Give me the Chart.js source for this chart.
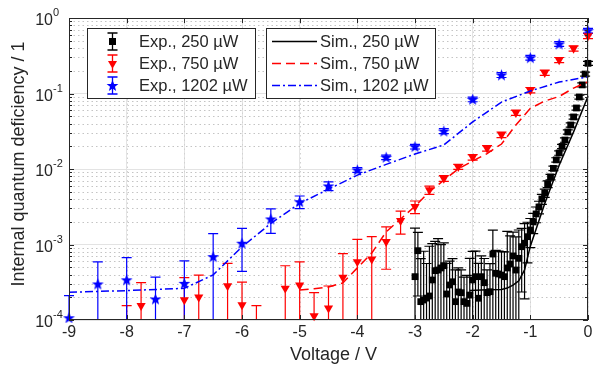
<!DOCTYPE html>
<html><head><meta charset="utf-8">
<script src="https://cdn.jsdelivr.net/npm/chart.js@4.4.1/dist/chart.umd.min.js"></script>
<style>html,body{margin:0;padding:0;background:#fff}</style>
</head><body>
<canvas id="c" width="595" height="365"></canvas>
<script>
// ---------------- data ----------------
const expLabels = ['Exp., 250 µW', 'Exp., 750 µW', 'Exp., 1202 µW'];
const simLabels = ['Sim., 250 µW', 'Sim., 750 µW', 'Sim., 1202 µW'];

const xTicks = [-9, -8, -7, -6, -5, -4, -3, -2, -1, 0];
const xTickLabels = ['-9', '-8', '-7', '-6', '-5', '-4', '-3', '-2', '-1', '0'];
const yTickExp = [0, -1, -2, -3, -4];

// Exp., 250 µW
const voltsExp250 = [-3,-2.95,-2.9,-2.85,-2.8,-2.75,-2.7,-2.65,-2.6,-2.55,-2.5,-2.45,-2.4,-2.35,-2.3,-2.25,-2.2,-2.15,-2.1,-2.05,
  -2,-1.95,-1.9,-1.85,-1.8,-1.75,-1.7,-1.65,-1.6,-1.55,-1.5,-1.45,-1.4,-1.35,-1.3,-1.25,-1.2,-1.15,-1.1,-1.05,
  -1,-0.95,-0.9,-0.85,-0.8,-0.75,-0.7,-0.65,-0.6,-0.55,-0.5,-0.45,-0.4,-0.35,-0.3,-0.25,-0.2,-0.15,-0.1,-0.05,0];
const exp250 = [3.75e-4, 8.28e-4, 1.75e-4, 1.84e-4, 1.95e-4, 2.08e-4, 3.39e-4, 4.50e-4, 4.59e-4, 4.89e-4,
  5.24e-4, 2.21e-4, 2.91e-4, 3.21e-4, 1.75e-4, 2.35e-4, 2.30e-4, 1.75e-4, 1.66e-4, 2.14e-4,
  3.39e-4, 3.75e-4, 1.94e-4, 3.75e-4, 3.12e-4, 2.30e-4, 2.37e-4, 7.48e-4, 4.16e-4, 4.07e-4,
  3.94e-4, 3.75e-4, 4.89e-4, 5.52e-4, 7.05e-4, 4.59e-4, 6.56e-4, 9.35e-4, 1.04e-3, 1.27e-3,
  1.56e-3, 1.99e-3, 2.54e-3, 3.14e-3, 4.01e-3, 4.81e-3, 6.33e-3, 7.83e-3, 0.0102, 0.0132,
  0.0163, 0.0199, 0.0242, 0.0309, 0.0383, 0.0489, 0.0643, 0.0899, 0.130, 0.181, 0.251];
const err250 = [1.27e-3, 6.2e-4, 4.75e-4, 6.3e-4, 3.65e-4, 7.4e-4, 6.9e-4, 6.5e-4, 7.4e-4, 5.1e-4,
  5.3e-4, 3.4e-4, 3.1e-4, 3.3e-4, 2.85e-4, 2.55e-4, 2.3e-4, 1.95e-4, 2.24e-4, 4.4e-4,
  4.7e-4, 4.4e-4, 3.7e-4, 3.3e-4, 3.4e-4, 2.3e-4, 3.2e-4, 8.0e-4, 4.2e-4, 4.1e-4,
  4.1e-4, 4.25e-4, 1.0e-3, 7.5e-4, 7.5e-4, 8.0e-4, 9.0e-4, 7.0e-4, 8.5e-4, 7.0e-4,
  6.5e-4, 6.0e-4, 6.0e-4, 6.0e-4, 6.0e-4, 6.0e-4, 6.5e-4, 6.5e-4, 7.0e-4, 9.0e-4,
  1.1e-3, 1.3e-3, 1.6e-3, 2.0e-3, 2.5e-3, 3.1e-3, 4.0e-3, 5.5e-3, 8.0e-3, 0.011, 0.015];

// Exp., 750 µW
const voltsExp750 = [-8,-7.75,-7.5,-7.25,-7,-6.75,-6.5,-6.25,-6,-5.75,-5.5,-5.25,-5,-4.75,-4.5,-4.25,-4,-3.75,
  -3.5,-3.25,-3,-2.75,-2.5,-2.25,-2,-1.75,-1.5,-1.25,-1,-0.75,-0.5,-0.25,0];
const exp750 = [7.75e-5, 1.55e-4, null, null, 1.84e-4, 2.0e-4, null, 2.82e-4, 1.58e-4, 7.75e-5, null, 2.63e-4, 2.9e-4,
  1.13e-4, 1.43e-4, 3.67e-4, 5.9e-4, 6.4e-4, 1.09e-3, 2.07e-3, 3.17e-3, 5.27e-3, 7.5e-3, 0.0107, 0.0143, 0.0188,
  0.0285, 0.0557, 0.111, 0.189, 0.278, 0.396, 0.578];
const err750 = [7.75e-5, 1.57e-4, null, null, 1.8e-4, 1.94e-4, null, 2.8e-4, 1.6e-4, 7.75e-5, null, 2.6e-4, 3.0e-4,
  1.17e-4, 1.39e-4, 3.9e-4, 5.8e-4, 6.3e-4, 6.2e-4, 7.0e-4, 6.0e-4, 6.5e-4, 6.5e-4, 8.0e-4, 1.2e-3, 1.6e-3,
  2.4e-3, 4.5e-3, 9.0e-3, 0.015, 0.022, 0.032, 0.046];

// Exp., 1202 µW
const voltsExp1202 = [-9,-8.5,-8,-7.5,-7,-6.5,-6,-5.5,-5,-4.5,-4,-3.5,-3,-2.5,-2,-1.5,-1,-0.5,0];
const exp1202 = [1.07e-4, 3.0e-4, 3.4e-4, 1.9e-4, 3.06e-4, 6.9e-4, 1.04e-3, 2.18e-3, 3.69e-3, 5.96e-3,
  9.7e-3, 0.0143, 0.0198, 0.0318, 0.0838, 0.176, 0.298, 0.453, 0.68];
const err1202 = [1.03e-4, 2.9e-4, 3.3e-4, 1.8e-4, 3.0e-4, 7.0e-4, 6.0e-4, 7.8e-4, 7.0e-4, 8.0e-4,
  7.0e-4, 1.0e-3, 1.4e-3, 2.4e-3, 6.0e-3, 0.013, 0.022, 0.033, 0.05];

// Simulations
const voltsSim250 = [-2.05,-1.75,-1.5,-1.4,-1.3,-1.2,-1.1,-1,-0.75,-0.5,-0.25,0];
const sim250 = [2.45e-4, 2.51e-4, 2.54e-4, 2.65e-4, 2.9e-4, 3.3e-4, 4.6e-4, 9.5e-4, 3.5e-3, 0.0112, 0.031, 0.092];
const voltsSim750 = [-5,-4.75,-4.5,-4.25,-4,-3.75,-3.5,-3.25,-3,-2.75,-2.5,-2.25,-2,-1.75,-1.5,-1.25,-1,-0.75,-0.5,-0.25,0];
const sim750 = [2.5e-4, 2.6e-4, 2.73e-4, 3.1e-4, 4.9e-4, 7.7e-4, 1.47e-3, 2.18e-3, 3.2e-3, 5.0e-3, 7.1e-3,
  0.0100, 0.0128, 0.0160, 0.0214, 0.0383, 0.0637, 0.0795, 0.0913, 0.118, 0.143];
const voltsSim1202 = [-9,-8,-7,-6.5,-6,-5.5,-5,-4.5,-4,-3.5,-3,-2.5,-2,-1.5,-1,-0.5,0];
const sim1202 = [2.33e-4, 2.45e-4, 2.63e-4, 3.96e-4, 9.3e-4, 1.9e-3, 3.5e-3, 5.4e-3, 8.3e-3, 0.0115, 0.0158,
  0.0208, 0.042, 0.077, 0.108, 0.142, 0.166];

// ---------------- styling ----------------
const AX = '#262626';
const FONT = '"Liberation Sans", Arial, Helvetica, sans-serif';
const BLACK = '#000000', RED = '#ff0000', BLUE = '#0000ff';

function pentagram(r, color) {
  const s = Math.ceil(r * 2 + 2);
  const c = document.createElement('canvas');
  c.width = s; c.height = s;
  const g = c.getContext('2d');
  g.translate(s / 2, s / 2 + 0.5);
  g.beginPath();
  for (let i = 0; i < 10; i++) {
    const rad = i % 2 === 0 ? r : r * 0.42;
    const a = -Math.PI / 2 + i * Math.PI / 5;
    g.lineTo(rad * Math.cos(a), rad * Math.sin(a));
  }
  g.closePath();
  g.fillStyle = color; g.fill();
  return c;
}
const blueStar = pentagram(6.2, BLUE);

const mk = (xs, ys) => xs.map((v, i) => ({ x: v, y: ys[i] }));
const CLIP = { left: 8, right: 8, top: 8, bottom: 3 };

const datasets = [
  { label: simLabels[0], data: mk(voltsSim250, sim250), borderColor: BLACK, borderWidth: 1.5, pointRadius: 0, fill: false, clip: 1, order: 1 },
  { label: simLabels[1], data: mk(voltsSim750, sim750), borderColor: RED, borderWidth: 1.5, borderDash: [9, 5], pointRadius: 0, fill: false, clip: 1, order: 1 },
  { label: simLabels[2], data: mk(voltsSim1202, sim1202), borderColor: BLUE, borderWidth: 1.5, borderDash: [8, 3, 2, 3], pointRadius: 0, fill: false, clip: 1, order: 1 },
  { label: expLabels[0], data: mk(voltsExp250, exp250), errors: err250, errColor: BLACK, showLine: false,
    pointStyle: 'rect', pointRadius: 4.8, pointBackgroundColor: BLACK, pointBorderColor: BLACK, pointBorderWidth: 0, clip: CLIP, order: 2 },
  { label: expLabels[1], data: mk(voltsExp750, exp750), errors: err750, errColor: RED, showLine: false,
    pointStyle: 'triangle', pointRotation: 180, pointRadius: 5.3, pointBackgroundColor: RED, pointBorderColor: RED, pointBorderWidth: 0, clip: CLIP, order: 2 },
  { label: expLabels[2], data: mk(voltsExp1202, exp1202), errors: err1202, errColor: BLUE, showLine: false,
    pointStyle: blueStar, pointRadius: 6, pointBackgroundColor: BLUE, pointBorderColor: BLUE, pointBorderWidth: 0, clip: CLIP, order: 2 }
];

function drawErrBar(ctx, px, yHi, yLo, ca, capW, drawLoCap, drawHiCap) {
  const top = Math.max(yHi, ca.top - 5);
  const bot = Math.min(yLo, ca.bottom);
  ctx.beginPath();
  ctx.moveTo(px, top); ctx.lineTo(px, bot);
  if (drawHiCap) { ctx.moveTo(px - capW, yHi); ctx.lineTo(px + capW, yHi); }
  if (drawLoCap) { ctx.moveTo(px - capW, yLo); ctx.lineTo(px + capW, yLo); }
  ctx.stroke();
}

const plotPlugin = {
  id: 'plotDecor',
  beforeDatasetsDraw(chart) {
    const { ctx, chartArea: ca, scales: { x, y } } = chart;
    ctx.save();
    // minor dotted grid (y)
    ctx.strokeStyle = '#c4c4c4';
    ctx.lineWidth = 1;
    ctx.setLineDash([1.5, 3]);
    for (let e = -4; e < 0; e++) {
      for (let m = 2; m <= 9; m++) {
        const py = Math.round(y.getPixelForValue(m * Math.pow(10, e))) + 0.5;
        ctx.beginPath(); ctx.moveTo(ca.left, py); ctx.lineTo(ca.right, py); ctx.stroke();
      }
    }
    // dotted overlay on x grid
    ctx.strokeStyle = '#d2d2d2';
    xTicks.forEach(v => {
      const px = Math.round(x.getPixelForValue(v)) + 0.5;
      ctx.beginPath(); ctx.moveTo(px, ca.top); ctx.lineTo(px, ca.bottom); ctx.stroke();
    });
    ctx.setLineDash([]);
    // error bars
    ctx.beginPath();
    ctx.rect(ca.left - 10, ca.top - 10, ca.width + 20, ca.height + 10);
    ctx.clip();
    ctx.lineWidth = 1.2;
    chart.data.datasets.forEach(ds => {
      if (!ds.errors) return;
      ctx.strokeStyle = ds.errColor;
      ds.data.forEach((p, j) => {
        const e = ds.errors[j];
        if (p.y == null || e == null) return;
        const px = x.getPixelForValue(p.x);
        const hi = p.y + e, lo = p.y - e;
        const yHi = y.getPixelForValue(hi);
        const yLo = lo > 0 ? y.getPixelForValue(lo) : ca.bottom + 50;
        drawErrBar(ctx, px, yHi, yLo, ca, 5, yLo <= ca.bottom, yHi <= ca.bottom);
      });
    });
    ctx.restore();
  },
  afterDatasetsDraw(chart) {
    const { ctx, chartArea: ca, scales: { x, y } } = chart;
    ctx.save();
    // axes box
    ctx.strokeStyle = AX; ctx.lineWidth = 1;
    ctx.strokeRect(Math.round(ca.left) + 0.5, Math.round(ca.top) + 0.5, Math.round(ca.width) - 1, Math.round(ca.height) - 1);
    // x ticks
    ctx.beginPath();
    xTicks.forEach(v => {
      const px = Math.round(x.getPixelForValue(v)) + 0.5;
      ctx.moveTo(px, ca.bottom); ctx.lineTo(px, ca.bottom - 5);
      ctx.moveTo(px, ca.top); ctx.lineTo(px, ca.top + 5);
    });
    // y ticks
    yTickExp.forEach(ex => {
      const py = Math.round(y.getPixelForValue(Math.pow(10, ex))) + 0.5;
      ctx.moveTo(ca.left, py); ctx.lineTo(ca.left + 5, py);
      ctx.moveTo(ca.right, py); ctx.lineTo(ca.right - 5, py);
    });
    for (let e = -4; e < 0; e++) {
      for (let m = 2; m <= 9; m++) {
        const py = Math.round(y.getPixelForValue(m * Math.pow(10, e))) + 0.5;
        ctx.moveTo(ca.left, py); ctx.lineTo(ca.left + 3, py);
        ctx.moveTo(ca.right, py); ctx.lineTo(ca.right - 3, py);
      }
    }
    ctx.stroke();

    // tick labels
    ctx.fillStyle = AX;
    ctx.font = '16px ' + FONT;
    ctx.textAlign = 'center'; ctx.textBaseline = 'middle';
    xTicks.forEach((v, i) => {
      ctx.fillText(xTickLabels[i], x.getPixelForValue(v), ca.bottom + 13);
    });
    yTickExp.forEach(ex => {
      const py = y.getPixelForValue(Math.pow(10, ex));
      ctx.font = '16px ' + FONT;
      ctx.textAlign = 'right';
      ctx.fillText('10', ca.left - 16, py + 3);
      ctx.font = '11px ' + FONT;
      ctx.textAlign = 'left';
      ctx.fillText(String(ex), ca.left - 16, py - 5);
    });

    // axis titles
    ctx.font = '18px ' + FONT;
    ctx.textAlign = 'center'; ctx.textBaseline = 'middle';
    ctx.fillText('Voltage / V', (ca.left + ca.right) / 2 + 5, ca.bottom + 35);
    ctx.save();
    ctx.translate(19, (ca.top + ca.bottom) / 2 - 5);
    ctx.rotate(-Math.PI / 2);
    ctx.fillText('Internal quantum deficiency / 1', 0, 0);
    ctx.restore();

    // legends
    const rows = [41.5, 63.5, 85.5];
    const drawBox = (l, t, r, b) => {
      ctx.fillStyle = '#ffffff';
      ctx.fillRect(l, t, r - l, b - t);
      ctx.strokeStyle = AX; ctx.lineWidth = 1;
      ctx.strokeRect(l + 0.5, t + 0.5, r - l - 1, b - t - 1);
    };
    drawBox(87, 28, 256, 99);
    drawBox(266, 28, 436, 99);
    const expColors = [BLACK, RED, BLUE];
    const simColors = [BLACK, RED, BLUE];
    const simDash = [[], [9, 5], [8, 3, 2, 3]];
    ctx.font = '16.5px ' + FONT;
    ctx.textAlign = 'left'; ctx.textBaseline = 'middle';
    rows.forEach((ry, i) => {
      const mx = 112.5;
      ctx.strokeStyle = expColors[i]; ctx.lineWidth = 1.3;
      ctx.beginPath();
      ctx.moveTo(mx, ry - 8.5); ctx.lineTo(mx, ry + 8.5);
      ctx.moveTo(mx - 5, ry - 8.5); ctx.lineTo(mx + 5, ry - 8.5);
      ctx.moveTo(mx - 5, ry + 8.5); ctx.lineTo(mx + 5, ry + 8.5);
      ctx.stroke();
      ctx.fillStyle = expColors[i];
      if (i === 0) {
        ctx.fillRect(mx - 3.5, ry - 3.5, 7, 7);
      } else if (i === 1) {
        ctx.beginPath();
        ctx.moveTo(mx - 4.5, ry - 2.6); ctx.lineTo(mx + 4.5, ry - 2.6); ctx.lineTo(mx, ry + 5.2);
        ctx.closePath(); ctx.fill();
      } else {
        ctx.drawImage(blueStar, mx - blueStar.width / 2, ry - blueStar.height / 2);
      }
      ctx.fillStyle = AX;
      ctx.fillText(expLabels[i], 139, ry + 0.5);

      ctx.strokeStyle = simColors[i]; ctx.lineWidth = 1.5;
      ctx.setLineDash(simDash[i]);
      ctx.beginPath(); ctx.moveTo(272, ry); ctx.lineTo(317, ry); ctx.stroke();
      ctx.setLineDash([]);
      ctx.fillStyle = AX;
      ctx.fillText(simLabels[i], 320, ry + 0.5);
    });
    ctx.restore();
  }
};

new Chart(document.getElementById('c').getContext('2d'), {
  type: 'line',
  data: { datasets },
  options: {
    responsive: false,
    animation: false,
    events: [],
    devicePixelRatio: 1,
    layout: { padding: { top: 18, right: 7, left: 0, bottom: 0 } },
    plugins: { legend: { display: false }, tooltip: { enabled: false } },
    scales: {
      x: {
        type: 'linear', min: -9, max: 0,
        afterBuildTicks: s => { s.ticks = xTicks.map(v => ({ value: v })); },
        afterFit: s => { s.height = 45; },
        ticks: { display: false },
        grid: { color: '#e3e3e3', lineWidth: 1, drawTicks: false },
        border: { display: false }
      },
      y: {
        type: 'logarithmic', min: 1e-4, max: 1,
        afterBuildTicks: s => { s.ticks = yTickExp.map(e => ({ value: Math.pow(10, e), major: true })); },
        afterFit: s => { s.width = 69; },
        ticks: { display: false },
        grid: { color: '#e3e3e3', lineWidth: 1, drawTicks: false },
        border: { display: false }
      }
    }
  },
  plugins: [plotPlugin]
});
</script>
</body></html>
